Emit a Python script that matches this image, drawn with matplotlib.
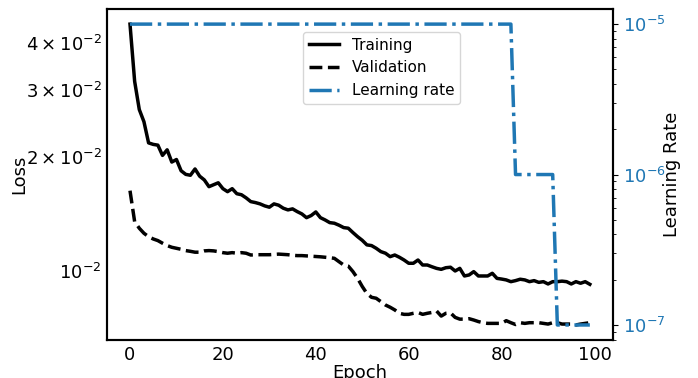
import numpy as np
import matplotlib
matplotlib.use("Agg")
import matplotlib.pyplot as plt

# loss history, one value per epoch
train_loss = [
    0.0449, 0.0317, 0.0267, 0.0248, 0.0218, 0.0216, 0.0215, 0.0202, 0.0209, 0.0194,
    0.0197, 0.0184, 0.0180, 0.0179, 0.0186, 0.0178, 0.0174, 0.0167, 0.0169, 0.0171,
    0.0165, 0.0162, 0.0165, 0.0160, 0.0159, 0.0156, 0.01525, 0.01516, 0.01504, 0.01486,
    0.01474, 0.01504, 0.01492, 0.01465, 0.0145, 0.01459, 0.01435, 0.01415, 0.01383, 0.01401,
    0.01432, 0.01383, 0.01364, 0.01342, 0.01337, 0.01321, 0.01302, 0.01297, 0.01263, 0.01232,
    0.01205, 0.01172, 0.01167, 0.01148, 0.01125, 0.01114, 0.01091, 0.01102, 0.01087, 0.01069,
    0.01048, 0.01048, 0.01069, 0.01037, 0.01037, 0.01026, 0.01016, 0.0101, 0.0102, 0.01023,
    0.0100, 0.01016, 0.0097, 0.00976, 0.00996, 0.0097, 0.0097, 0.0097, 0.00986, 0.00956,
    0.00952, 0.00947, 0.00937, 0.00943, 0.00951, 0.00947, 0.00937, 0.00943, 0.00933, 0.00937,
    0.00924, 0.00937, 0.00937, 0.0094, 0.00937, 0.00924, 0.00937, 0.00928, 0.00937, 0.00922,
]
val_loss = [
    0.0163, 0.0135, 0.01297, 0.01258, 0.01232, 0.01215, 0.01203, 0.01184, 0.01167, 0.01155,
    0.01148, 0.01141, 0.01132, 0.01127, 0.01121, 0.01121, 0.0113, 0.01132, 0.0113, 0.01125,
    0.01118, 0.01114, 0.01118, 0.01114, 0.01118, 0.01114, 0.01102, 0.01104, 0.01104, 0.01104,
    0.01104, 0.01106, 0.01108, 0.01106, 0.01104, 0.0110, 0.01098, 0.01098, 0.01096, 0.01094,
    0.01092, 0.0109, 0.01087, 0.01084, 0.0108, 0.01058, 0.01037, 0.0103, 0.00996, 0.00956,
    0.0091, 0.00872, 0.00852, 0.00847, 0.0083, 0.00813, 0.00802, 0.00789, 0.00773, 0.00768,
    0.00768, 0.00773, 0.00777, 0.00768, 0.00773, 0.00777, 0.00784, 0.0076, 0.00773, 0.00775,
    0.00754, 0.00746, 0.00746, 0.00748, 0.00742, 0.00735, 0.0073, 0.00727, 0.00727, 0.00727,
    0.00727, 0.00739, 0.0073, 0.00722, 0.0073, 0.00727, 0.0073, 0.0073, 0.0073, 0.00727,
    0.00724, 0.0073, 0.0073, 0.00724, 0.00724, 0.00724, 0.0072, 0.00724, 0.00727, 0.0073,
]
# learning rate schedule (reduced on plateau)
lr_epochs = [83, 9, 8]
lr_values = [1e-5, 1e-6, 1e-7]
learning_rate = np.repeat(lr_values, lr_epochs)

epochs = np.arange(len(train_loss))

plt.rcParams["axes.linewidth"] = 1.5
plt.rcParams["font.size"] = 13

fig, ax = plt.subplots(figsize=(6.98, 3.78), dpi=100)
fig.subplots_adjust(left=0.1533, right=0.878, bottom=0.1005, top=0.976)

l1, = ax.plot(epochs, train_loss, color="black", lw=2.5, label="Training")
l2, = ax.plot(epochs, val_loss, color="black", lw=2.5, ls="--", label="Validation")
ax.set_yscale("log")
ax.set_xlabel("Epoch", fontsize=13, labelpad=0)
ax.set_ylabel("Loss", fontsize=13, labelpad=-2)
ax.tick_params(axis="both", which="both", length=0, labelsize=13, pad=4)

ax2 = ax.twinx()
l3, = ax2.plot(epochs, learning_rate, color="tab:blue", lw=2.5, ls="-.",
               label="Learning rate")
ax2.set_yscale("log")
ax2.set_ylabel("Learning Rate", fontsize=13, labelpad=-2)
ax2.tick_params(axis="y", labelcolor="tab:blue", labelsize=13)

ax2.legend(handles=[l1, l2, l3], loc="upper left", bbox_to_anchor=(0.372, 0.955),
           fontsize=11)

fig.savefig("out.png", dpi=100)
